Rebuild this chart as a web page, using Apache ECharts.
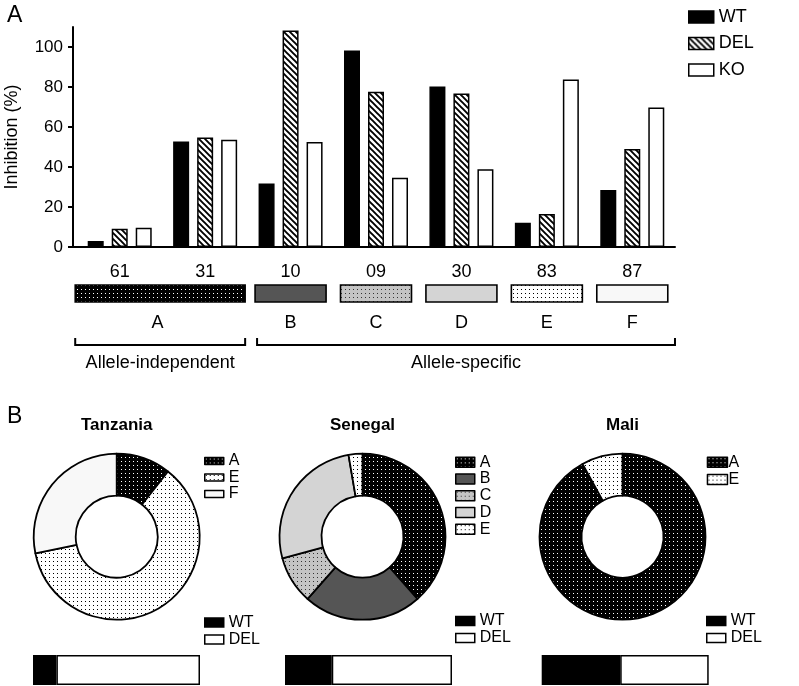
<!DOCTYPE html>
<html>
<head>
<meta charset="utf-8">
<script src="https://cdn.jsdelivr.net/npm/echarts@6/dist/echarts.min.js"></script>
<style>
html,body{margin:0;padding:0;background:#fff;}
#chart{width:799px;height:686px;}
</style>
</head>
<body>
<div id="chart"></div>
<script>
// ---------------- DATA ----------------
const categories = ['61', '31', '10', '09', '30', '83', '87'];
const wtValues  = [3.0, 52.8, 31.8, 98.3, 80.3, 12.1, 28.5];
const delValues = [9.1, 54.8, 108.3, 77.6, 76.7, 16.5, 49.0];
const koValues  = [9.6, 53.6, 52.5, 34.6, 38.9, 83.8, 69.8];
const yTickValues = [0, 20, 40, 60, 80, 100];

const groupLetters = ['A', 'B', 'C', 'D', 'E', 'F'];
const groupFirst = [0, 2, 3, 4, 5, 6];
const groupLast  = [1, 2, 3, 4, 5, 6];

const bracketLabels = ['Allele-independent', 'Allele-specific'];
const bracketFirst = [0, 2];
const bracketLast  = [1, 6];

const countries = ['Tanzania', 'Senegal', 'Mali'];
const tanzaniaNames  = ['A', 'E', 'F'];
const tanzaniaValues = [10.6, 61.2, 28.2];
const senegalNames   = ['A', 'B', 'C', 'D', 'E'];
const senegalValues  = [38.5, 23.0, 9.3, 26.5, 2.7];
const maliNames      = ['A', 'E'];
const maliValues     = [92, 8];

const countryWT  = [14, 28, 47];
const countryDEL = [86, 72, 53];

// ---------------- STYLE HELPERS ----------------
const FONT = '"Liberation Sans", Arial, Helvetica, sans-serif';

function makeCanvas(w, h) {
  const c = document.createElement('canvas');
  c.width = w; c.height = h;
  return c;
}
function hatch() {
  const c = makeCanvas(6, 6), g = c.getContext('2d');
  g.fillStyle = '#fff'; g.fillRect(0, 0, 6, 6);
  g.strokeStyle = '#000'; g.lineWidth = 1.9;
  g.beginPath();
  g.moveTo(-1, -1); g.lineTo(7, 7);
  g.moveTo(-1, 5); g.lineTo(1, 7);
  g.moveTo(5, -1); g.lineTo(7, 1);
  g.stroke();
  return { image: c, repeat: 'repeat' };
}
function dots(bg, fg, size) {
  const c = makeCanvas(size, size), g = c.getContext('2d');
  g.fillStyle = bg; g.fillRect(0, 0, size, size);
  g.fillStyle = fg; g.fillRect(1, 1, 1, 1);
  return { image: c, repeat: 'repeat' };
}
const FILL = {
  A: dots('#000', '#fff', 4),
  B: '#555555',
  C: dots('#c4c4c4', '#333', 4),
  D: '#d4d4d4',
  E: dots('#fff', '#000', 4),
  F: '#f8f8f8'
};
const HATCH = hatch();

const border = { borderColor: '#000', borderWidth: 1.5 };

function pieData(names, values) {
  return names.map((n, i) => ({ name: n, value: values[i], itemStyle: { color: FILL[n] } }));
}

// ---------------- CHART ----------------
const chart = echarts.init(document.getElementById('chart'), null, { renderer: 'canvas' });

const pieCenters = [[116.7, 536.7], [362.5, 536.7], [622.5, 536.7]];
const pieSets = [[tanzaniaNames, tanzaniaValues], [senegalNames, senegalValues], [maliNames, maliValues]];
const bottomLeft = [33, 285, 541.7];

const option = {
  animation: false,
  backgroundColor: '#fff',
  textStyle: { fontFamily: FONT, color: '#000' },
  grid: [
    { left: 77, right: 124, top: 27, height: 220, outerBoundsMode: 'none', containLabel: false },
    { left: bottomLeft[0], top: 655, width: 167, height: 30, outerBoundsMode: 'none' },
    { left: bottomLeft[1], top: 655, width: 167, height: 30, outerBoundsMode: 'none' },
    { left: bottomLeft[2], top: 655, width: 167, height: 30, outerBoundsMode: 'none' }
  ],
  xAxis: [
    {
      type: 'category', data: categories, gridIndex: 0,
      axisLine: { lineStyle: { color: '#000', width: 2 } },
      axisTick: { alignWithLabel: true, length: 7, lineStyle: { color: '#000', width: 2 } },
      axisLabel: { color: '#000', fontSize: 18, fontFamily: FONT, margin: 16 }
    },
    { type: 'value', gridIndex: 1, min: 0, max: 100, show: false },
    { type: 'value', gridIndex: 2, min: 0, max: 100, show: false },
    { type: 'value', gridIndex: 3, min: 0, max: 100, show: false }
  ],
  yAxis: [
    {
      type: 'value', gridIndex: 0, min: 0, max: 110, interval: 20, offset: 4,
      name: 'Inhibition (%)', nameLocation: 'middle', nameGap: 52,
      nameTextStyle: { fontSize: 18, fontFamily: FONT, color: '#000' },
      axisLine: { show: true, lineStyle: { color: '#000', width: 2 } },
      axisTick: { show: true, length: 5, lineStyle: { color: '#000', width: 2 }, customValues: yTickValues },
      axisLabel: { color: '#000', fontSize: 17, fontFamily: FONT, margin: 10, customValues: yTickValues },
      splitLine: { show: false }
    },
    { type: 'category', gridIndex: 1, data: [''], show: false },
    { type: 'category', gridIndex: 2, data: [''], show: false },
    { type: 'category', gridIndex: 3, data: [''], show: false }
  ],
  legend: [
    {
      data: ['WT', 'DEL', 'KO'], orient: 'vertical', left: 688, top: 8, padding: 0,
      itemWidth: 25, itemHeight: 12, itemGap: 8.5, selectedMode: false,
      icon: 'rect', itemStyle: { borderColor: '#000', borderWidth: 1.5 },
      textStyle: { fontSize: 18, fontFamily: FONT, color: '#000', lineHeight: 18 }
    },
    {
      data: tanzaniaNames, orient: 'vertical', left: 204, top: 452.7, padding: 0,
      itemWidth: 19, itemHeight: 7, itemGap: 0, selectedMode: false, icon: 'rect',
      itemStyle: { borderColor: '#000', borderWidth: 1.5 },
      textStyle: { fontSize: 16, fontFamily: FONT, color: '#000', lineHeight: 16.5 }
    },
    {
      data: senegalNames, orient: 'vertical', left: 455, top: 454, padding: 0,
      itemWidth: 19, itemHeight: 10, itemGap: 0, selectedMode: false, icon: 'rect',
      itemStyle: { borderColor: '#000', borderWidth: 1.5 },
      textStyle: { fontSize: 16, fontFamily: FONT, color: '#000', lineHeight: 16.7 }
    },
    {
      data: maliNames, orient: 'vertical', left: 706.7, top: 453.5, padding: 0,
      itemWidth: 20, itemHeight: 10, itemGap: 0, selectedMode: false, icon: 'rect',
      itemStyle: { borderColor: '#000', borderWidth: 1.5 },
      textStyle: { fontSize: 16, fontFamily: FONT, color: '#000', lineHeight: 17.4, padding: [0, 0, 0, -4] }
    },
    ...[0, 1, 2].map(i => ({
      data: [{ name: 'WT', itemStyle: { color: '#000' } }, { name: 'DEL', itemStyle: { color: '#fff' } }],
      orient: 'vertical', left: [204, 455, 706][i], top: [614, 612.5, 612.5][i], padding: 0,
      itemWidth: 19, itemHeight: 9, itemGap: 0, selectedMode: false, icon: 'rect',
      itemStyle: { borderColor: '#000', borderWidth: 1.5 },
      textStyle: { fontSize: 16, fontFamily: FONT, color: '#000', lineHeight: 17 }
    }))
  ],
  series: [
    {
      name: 'WT', type: 'bar', xAxisIndex: 0, yAxisIndex: 0, data: wtValues,
      barWidth: 16, barGap: '50%',
      itemStyle: Object.assign({ color: '#000' }, border)
    },
    {
      name: 'DEL', type: 'bar', xAxisIndex: 0, yAxisIndex: 0, data: delValues,
      barWidth: 16, barGap: '50%',
      itemStyle: Object.assign({ color: HATCH }, border)
    },
    {
      name: 'KO', type: 'bar', xAxisIndex: 0, yAxisIndex: 0, data: koValues,
      barWidth: 16, barGap: '50%',
      itemStyle: Object.assign({ color: '#fff' }, border)
    },
    ...pieSets.map((s, i) => ({
      type: 'pie', name: countries[i], center: pieCenters[i], radius: [41, 83],
      startAngle: 90, clockwise: true, label: { show: false }, labelLine: { show: false },
      emphasis: { disabled: true }, silent: true,
      itemStyle: { borderColor: '#000', borderWidth: 1.8 },
      data: pieData(s[0], s[1])
    })),
    ...[0, 1, 2].flatMap(i => [
      {
        name: 'WT', type: 'bar', xAxisIndex: i + 1, yAxisIndex: i + 1, stack: 'c' + i,
        data: [countryWT[i]], barWidth: 30,
        itemStyle: Object.assign({ color: '#000' }, border)
      },
      {
        name: 'DEL', type: 'bar', xAxisIndex: i + 1, yAxisIndex: i + 1, stack: 'c' + i,
        data: [countryDEL[i]], barWidth: 30,
        itemStyle: Object.assign({ color: '#fff' }, border)
      }
    ])
  ]
};
chart.setOption(option);

// ---------------- ANNOTATIONS (positions from the category axis) ----------------
const cx = i => chart.convertToPixel({ xAxisIndex: 0 }, categories[i]);
const y0 = chart.convertToPixel({ yAxisIndex: 0 }, 0);
const yAxisX = 73;
const graphics = [];

// connect y axis and x axis line (y axis offset)
graphics.push({ type: 'line', shape: { x1: yAxisX - 1, y1: y0, x2: 78, y2: y0 }, style: { stroke: '#000', lineWidth: 2 } });

// panel letters
graphics.push({ type: 'text', x: 7, y: 4, style: { text: 'A', fontSize: 23, fontFamily: FONT, fill: '#000' } });
graphics.push({ type: 'text', x: 7, y: 405, style: { text: 'B', fontSize: 23, fontFamily: FONT, fill: '#000' } });

// group boxes + letters
groupLetters.forEach((L, k) => {
  const a = groupFirst[k], b = groupLast[k];
  const left = cx(a) - (a === b ? 35.5 : 44.5);
  const right = cx(b) + (a === b ? 35.5 : 40);
  graphics.push({
    type: 'rect', shape: { x: left, y: 285, width: right - left, height: 17 },
    style: { fill: FILL[L], stroke: '#000', lineWidth: 1.6 }
  });
  graphics.push({
    type: 'text', x: (cx(a) + cx(b)) / 2 + (a === b ? 0 : -5), y: 323,
    style: { text: L, fontSize: 18, fontFamily: FONT, fill: '#000', align: 'center', verticalAlign: 'middle' }
  });
});

// brackets
const bLeftOff = [-44.5, -33.5], bRightOff = [40, 42.7];
bracketLabels.forEach((t, k) => {
  const l = cx(bracketFirst[k]) + bLeftOff[k];
  const r = cx(bracketLast[k]) + bRightOff[k];
  graphics.push({
    type: 'polyline', shape: { points: [[l, 338], [l, 345], [r, 345], [r, 338]] },
    style: { stroke: '#000', lineWidth: 2, fill: null }
  });
  graphics.push({
    type: 'text', x: (l + r) / 2, y: 363,
    style: { text: t, fontSize: 18, fontFamily: FONT, fill: '#000', align: 'center', verticalAlign: 'middle' }
  });
});

// pie titles
countries.forEach((c, i) => {
  graphics.push({
    type: 'text', x: pieCenters[i][0], y: 425,
    style: { text: c, fontSize: 17, fontWeight: 'bold', fontFamily: FONT, fill: '#000', align: 'center', verticalAlign: 'middle' }
  });
});

chart.setOption({ graphic: graphics });
</script>
</body>
</html>
